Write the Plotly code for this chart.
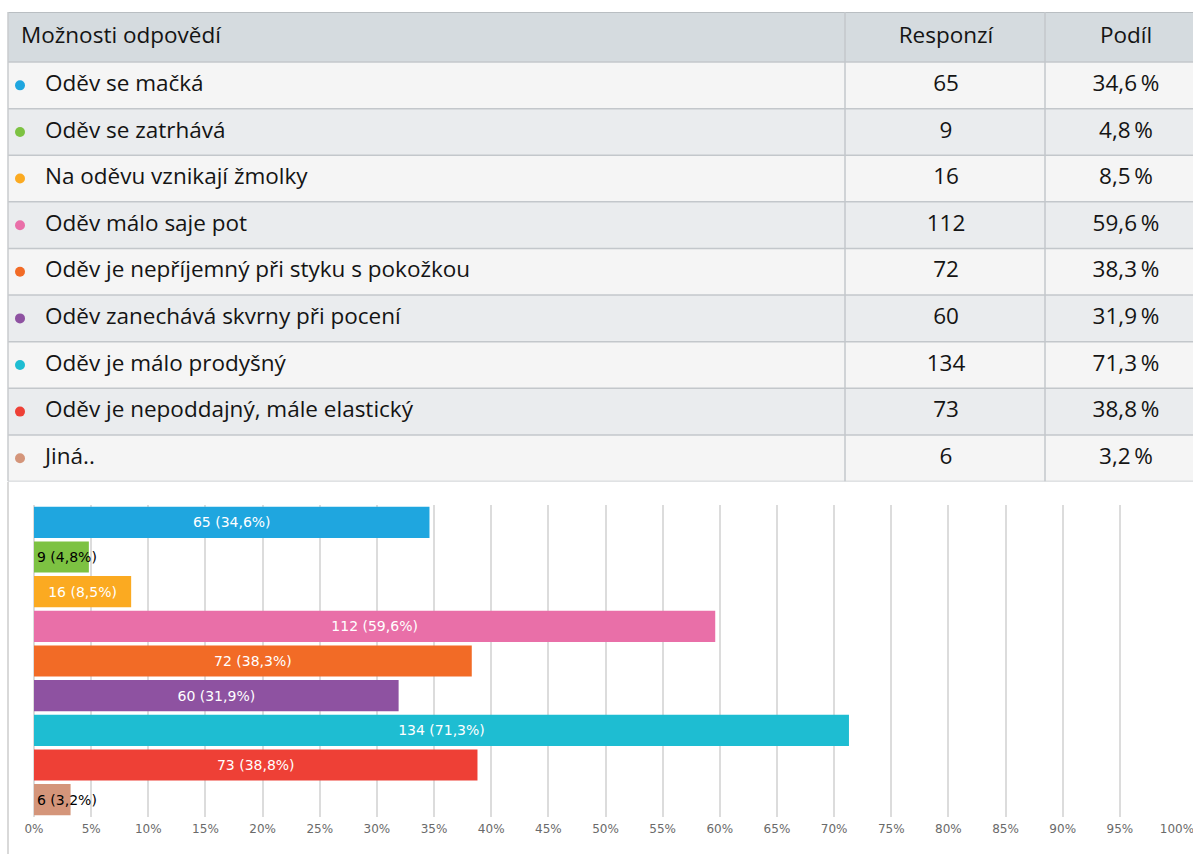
import plotly.graph_objects as go

categories = [
    "Oděv se mačká",
    "Oděv se zatrhává",
    "Na oděvu vznikají žmolky",
    "Oděv málo saje pot",
    "Oděv je nepříjemný při styku s pokožkou",
    "Oděv zanechává skvrny při pocení",
    "Oděv je málo prodyšný",
    "Oděv je nepoddajný, mále elastický",
    "Jiná..",
]
responses = [65, 9, 16, 112, 72, 60, 134, 73, 6]
shares = [34.6, 4.8, 8.5, 59.6, 38.3, 31.9, 71.3, 38.8, 3.2]
colors = ["#1fa6df", "#7dc242", "#fbaa21", "#e96fa8", "#f26b26",
          "#8e52a1", "#1ebdd2", "#ee4036", "#d4957a"]
label_colors = ["white", "black", "white", "white", "white",
                "white", "white", "white", "black"]
label_anchor = ["middle", "start", "middle", "middle", "middle",
                "middle", "middle", "middle", "start"]
header_labels = ["Možnosti odpovědí", "Responzí", "Podíl"]
x_ticks = list(range(0, 101, 5))

W, H = 1193, 854
TFONT = "Open Sans"


def fmt(v):
    return f"{v:.1f}".replace(".", ",")


n = len(categories)
rows = list(range(n))
hdr_h = 50 / 46.56
hdr_top = -0.5 - hdr_h
hdr_mid = -0.5 - hdr_h / 2

fig = go.Figure()

# ---------- table (drawn on its own axes x2 / y2) ----------
shapes = []
shapes.append(dict(type="rect", xref="x2", yref="y2", x0=8, x1=W, y0=hdr_top, y1=-0.5,
                   fillcolor="#d5dbdf", line=dict(width=0), layer="below"))
for i in rows:
    shapes.append(dict(type="rect", xref="x2", yref="y2", x0=8, x1=W, y0=i - 0.5, y1=i + 0.5,
                       fillcolor="#f5f5f5" if i % 2 == 0 else "#eaecee",
                       line=dict(width=0), layer="below"))
for i in [-0.5] + [r + 0.5 for r in rows]:
    shapes.append(dict(type="line", xref="x2", yref="y2", x0=8, x1=W, y0=i, y1=i,
                       line=dict(color="#c3c7cb", width=1.5)))
shapes.append(dict(type="line", xref="x2", yref="y2", x0=8, x1=W, y0=hdr_top, y1=hdr_top,
                   line=dict(color="#b9bec2", width=2)))
for xc in [845, 1045]:
    shapes.append(dict(type="line", xref="x2", yref="y2", x0=xc, x1=xc, y0=hdr_top, y1=n - 0.5,
                       line=dict(color="#c3c7cb", width=1.5)))
shapes.append(dict(type="line", xref="x2", yref="y2", x0=8, x1=8, y0=hdr_top, y1=n - 0.5,
                   line=dict(color="#c8cbce", width=1.5)))
# left border of chart area
shapes.append(dict(type="line", xref="paper", yref="paper",
                   x0=8 / W, x1=8 / W, y0=0, y1=(H - 482) / H,
                   line=dict(color="#cccccc", width=1.5)))

tfont = dict(family=TFONT, size=22.5, color="#141414", weight=500)

# header texts
fig.add_trace(go.Scatter(
    x=[21], y=[hdr_mid], mode="text", text=[header_labels[0]],
    textposition="middle right", textfont=tfont,
    xaxis="x2", yaxis="y2", showlegend=False, hoverinfo="skip", cliponaxis=False))
fig.add_trace(go.Scatter(
    x=[946, 1126], y=[hdr_mid, hdr_mid], mode="text", text=header_labels[1:],
    textposition="middle center", textfont=tfont,
    xaxis="x2", yaxis="y2", showlegend=False, hoverinfo="skip", cliponaxis=False))
# dots
fig.add_trace(go.Scatter(
    x=[20] * n, y=rows, mode="markers",
    marker=dict(color=colors, size=10, line=dict(width=0)),
    xaxis="x2", yaxis="y2", showlegend=False, hoverinfo="skip", cliponaxis=False))
# answer texts
fig.add_trace(go.Scatter(
    x=[45] * n, y=rows, mode="text", text=categories,
    textposition="middle right", textfont=tfont,
    xaxis="x2", yaxis="y2", showlegend=False, hoverinfo="skip", cliponaxis=False))
# responses
fig.add_trace(go.Scatter(
    x=[946] * n, y=rows, mode="text", text=[str(r) for r in responses],
    textposition="middle center", textfont=tfont,
    xaxis="x2", yaxis="y2", showlegend=False, hoverinfo="skip", cliponaxis=False))
# shares
fig.add_trace(go.Scatter(
    x=[1126] * n, y=rows, mode="text", text=[fmt(s) + "\u2009%" for s in shares],
    textposition="middle center", textfont=tfont,
    xaxis="x2", yaxis="y2", showlegend=False, hoverinfo="skip", cliponaxis=False))

# ---------- bar chart ----------
for i, cat in enumerate(categories):
    fig.add_trace(go.Bar(
        y=[cat],
        x=[shares[i]],
        orientation="h",
        marker=dict(color=colors[i], line=dict(width=0)),
        text=[f"{responses[i]} ({fmt(shares[i])}%)"],
        textposition="inside",
        insidetextanchor=label_anchor[i],
        constraintext="none",
        textfont=dict(family="DejaVu Sans", size=14, color=label_colors[i]),
        cliponaxis=False,
        showlegend=False,
        hoverinfo="skip",
    ))

fig.update_layout(
    width=W, height=H,
    autosize=False,
    margin=dict(l=0, r=0, t=0, b=0, pad=0, autoexpand=False),
    paper_bgcolor="white",
    plot_bgcolor="rgba(0,0,0,0)",
    bargap=0.1,
    barmode="overlay",
    xaxis=dict(
        domain=[34 / W, 1177 / W],
        range=[0, 100],
        tickvals=x_ticks,
        ticktext=[f"{t}%" for t in x_ticks],
        ticklabeloverflow="allow",
        automargin=False,
        showgrid=True,
        gridcolor="#dcdcdc",
        gridwidth=1.5,
        zeroline=True,
        zerolinecolor="#dcdcdc",
        zerolinewidth=1.5,
        tickfont=dict(family="DejaVu Sans", size=12, color="#6a6a6a"),
        ticks="outside",
        ticklen=1,
        tickcolor="rgba(0,0,0,0)",
        fixedrange=True,
    ),
    yaxis=dict(
        domain=[(H - 817) / H, (H - 505) / H],
        categoryorder="array",
        categoryarray=categories,
        autorange="reversed",
        showticklabels=False,
        showgrid=False,
        zeroline=False,
        automargin=False,
        fixedrange=True,
    ),
    xaxis2=dict(
        domain=[0, 1], range=[0, W], anchor="y2",
        visible=False, fixedrange=True, automargin=False,
    ),
    yaxis2=dict(
        domain=[(H - 481.5) / H, (H - 12) / H], range=[n - 0.5, hdr_top], anchor="x2",
        visible=False, fixedrange=True, automargin=False,
    ),
    shapes=shapes,
)

fig.write_html(
    "out.html",
    config={"displayModeBar": False, "responsive": False},
    post_script="document.body.style.margin='0';document.body.style.overflow='hidden';",
)
